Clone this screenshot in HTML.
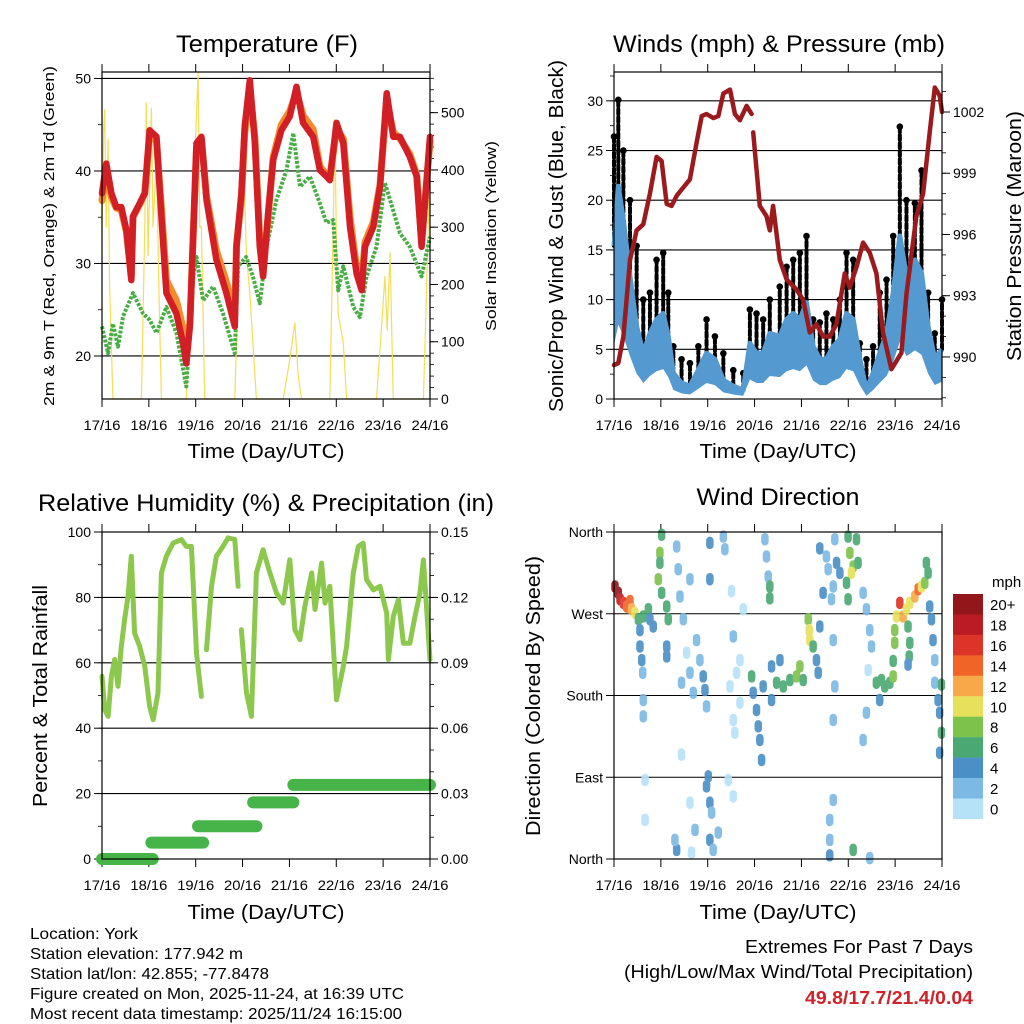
<!DOCTYPE html>
<html><head><meta charset="utf-8"><title>York station meteogram</title>
<style>
html,body{margin:0;padding:0;background:#fff;}
svg{display:block;font-family:"Liberation Sans",Arial,sans-serif;}
</style></head>
<body>
<svg id="chart" width="1024" height="1024" viewBox="0 0 1024 1024" xmlns="http://www.w3.org/2000/svg">
<rect x="0" y="0" width="1024" height="1024" fill="#fff"/>
<g id="texts">
<text x="267" y="52" font-size="24" text-anchor="middle" textLength="182" lengthAdjust="spacingAndGlyphs">Temperature (F)</text>
<text x="779" y="52" font-size="24" text-anchor="middle" textLength="332" lengthAdjust="spacingAndGlyphs">Winds (mph) &amp; Pressure (mb)</text>
<text x="266" y="511" font-size="24" text-anchor="middle" textLength="456" lengthAdjust="spacingAndGlyphs">Relative Humidity (%) &amp; Precipitation (in)</text>
<text x="778" y="505" font-size="24" text-anchor="middle" textLength="163" lengthAdjust="spacingAndGlyphs">Wind Direction</text>
<text x="266" y="458" font-size="20" text-anchor="middle" textLength="157" lengthAdjust="spacingAndGlyphs">Time (Day/UTC)</text>
<text x="778" y="458" font-size="20" text-anchor="middle" textLength="157" lengthAdjust="spacingAndGlyphs">Time (Day/UTC)</text>
<text x="266" y="919" font-size="20" text-anchor="middle" textLength="157" lengthAdjust="spacingAndGlyphs">Time (Day/UTC)</text>
<text x="778" y="919" font-size="20" text-anchor="middle" textLength="157" lengthAdjust="spacingAndGlyphs">Time (Day/UTC)</text>
<text transform="translate(54,236) rotate(-90)" font-size="15" text-anchor="middle" textLength="340" lengthAdjust="spacingAndGlyphs">2m &amp; 9m T (Red, Orange) &amp; 2m Td (Green)</text>
<text transform="translate(496,236) rotate(-90)" font-size="15" text-anchor="middle" textLength="190" lengthAdjust="spacingAndGlyphs">Solar Insolation (Yellow)</text>
<text transform="translate(563,236) rotate(-90)" font-size="20" text-anchor="middle" textLength="352" lengthAdjust="spacingAndGlyphs">Sonic/Prop Wind &amp; Gust (Blue, Black)</text>
<text transform="translate(1021,236) rotate(-90)" font-size="20" text-anchor="middle" textLength="250" lengthAdjust="spacingAndGlyphs">Station Pressure (Maroon)</text>
<text transform="translate(47,696) rotate(-90)" font-size="20" text-anchor="middle" textLength="222" lengthAdjust="spacingAndGlyphs">Percent &amp; Total Rainfall</text>
<text transform="translate(540,696) rotate(-90)" font-size="20" text-anchor="middle" textLength="280" lengthAdjust="spacingAndGlyphs">Direction (Colored By Speed)</text>
<g font-size="16">
<text x="30" y="939" textLength="108" lengthAdjust="spacingAndGlyphs">Location: York</text>
<text x="30" y="959" textLength="213" lengthAdjust="spacingAndGlyphs">Station elevation: 177.942 m</text>
<text x="30" y="979" textLength="239" lengthAdjust="spacingAndGlyphs">Station lat/lon: 42.855; -77.8478</text>
<text x="30" y="999" textLength="374" lengthAdjust="spacingAndGlyphs">Figure created on Mon, 2025-11-24, at 16:39 UTC</text>
<text x="30" y="1019" textLength="372" lengthAdjust="spacingAndGlyphs">Most recent data timestamp: 2025/11/24 16:15:00</text>
</g>
<text x="973" y="953" font-size="18" text-anchor="end" textLength="228" lengthAdjust="spacingAndGlyphs">Extremes For Past 7 Days</text>
<text x="973" y="978" font-size="18" text-anchor="end" textLength="349" lengthAdjust="spacingAndGlyphs">(High/Low/Max Wind/Total Precipitation)</text>
<text x="973" y="1004" font-size="18" font-weight="bold" fill="#cf2229" text-anchor="end" textLength="168" lengthAdjust="spacingAndGlyphs">49.8/17.7/21.4/0.04</text>
<text x="992" y="587" font-size="15">mph</text>
</g>
</svg>
<script>
// ---------- Temperature panel data ----------
var tempTimes=[0,2.2,4.8,7.3,9.9,12.5,15,15.9,19.3,21.9,24.4,27.9,30.4,33,38.1,41.5,43.2,45,48.4,50.9,53.5,58.6,63.7,68,68.9,71.4,73.1,75.7,78.3,80.8,82.5,85.1,87.7,91.9,96.2,99.6,103,108.2,111.6,115,116.7,120.1,123.6,127,130.4,133,134.7,139,142.4,145.8,149.2,152.6,157.7,161.2,163.7,168];
var tempRed=[37.6,40.8,37.6,36.1,36.1,33.6,28.2,35.1,36.5,37.6,44.4,43.7,35.1,26.8,24.6,21.4,19.2,23.2,43,43.7,36.9,30.4,26.8,23.2,31.8,37.6,44.8,49.8,43,31.8,28.6,35.4,41.2,44.4,45.9,49.1,45.2,43.7,40.1,39.4,39,45.2,43,34,28.9,27.1,31.8,34,38.3,48.4,43.7,43.7,41.5,39.4,31.8,43.7];
var tempOrange=[36.8,40.3,37.2,36,35.8,33.4,28.6,35,36.4,37.6,44,43.2,36,28.2,26,23,21.6,23.5,42.5,43.5,37.3,31.4,28,24.5,32,37,44,49,43.6,32.5,29,35,41.5,45,46.5,48.5,46,44.5,40.5,39.6,39.2,44.5,43.5,35,29.5,28,32.3,34.5,38.5,47.5,44.2,43.5,41.8,39.6,32.5,43.2];
var dewTimes=[0,3.1,5.6,8.2,10.8,15.9,21,24.4,27.9,33,38.1,43.2,46.7,48.4,51.8,56.9,62,68,69.7,73.8,77.3,80.8,84.3,89.4,94.5,98,101.4,106.5,111.6,115,118.4,121,123.6,128.7,132.1,135.5,140.6,144.9,147.5,152.6,157.7,163.7,168];
var dewValues=[23.2,20.3,23.5,21,24.3,26.8,24.6,23.9,22.5,25.3,22.5,16.7,28.6,30.7,26,27.5,24.6,20.3,29.7,30.7,28.6,25.7,31.8,36.9,40.1,44.1,38.3,39.4,36.5,34.4,34.7,27.1,29.7,25.3,24.2,28.6,31.8,38.7,36.9,33.3,31.8,28.6,32.9];
var solarTimes=[0,0.9,1.4,2.2,3.1,3.9,5.6,20.2,21.9,22.7,23.6,25.3,26.1,27.9,29.1,30.4,43.2,44.9,46.7,49.2,50.1,50.9,52.6,68,69.7,72.3,74,75.7,79.1,92.8,96.2,98.8,100.5,102.2,116.7,118.4,119.3,120.1,121,123.6,125.3,140.6,143.2,144.9,146.1,147.5,149.2,164.6,166.3,168];
var solarValues=[300,480,505,300,453,200,0,0,300,517,250,508,300,418,200,0,0,150,350,569,300,301,0,0,200,435,250,185,0,0,69,133,40,0,0,300,488,250,150,98,0,0,127,214,120,255,0,0,200,418];
var tempTicks=[20,30,40,50];
var solarTicks=[0,100,200,300,400,500];
var dayLabels=["17/16","18/16","19/16","20/16","21/16","22/16","23/16","24/16"];
// ---------- Winds panel data ----------
var presTimes=[0,2.2,4.8,8.2,11.6,15,18.4,21.8,24.4,27,29.5,32.1,35.5,38.9,42.3,44.9,47.4,50.9,53.4,56,59.4,61.9,64.5,67.9,70.5,71,71.3,74.7,78.1,79.8,81.5,84.9,88.4,93.5,96.9,100.3,103.7,107.1,110.5,113.9,118.2,120.7,124.2,127.6,131,134.4,137.8,142.1,147.2,149.8,154.9,158.3,161.7,164.3,166.8,168];
var presValues=[989.6,989.7,991,994.75,996.2,996.5,998,999.8,999.6,997.5,997.4,997.9,998.3,998.7,1000.5,1001.8,1001.9,1001.7,1001.8,1002.9,1003.1,1001.9,1001.6,1002.3,1001.9,null,1001,997.4,996.9,996.2,997.4,994.75,993.8,993.3,992.8,991.2,991.6,991,991,991.6,994.1,993.4,994.4,995.6,995.1,994.1,991.2,989.4,990.2,993.1,996.9,998,1001,1003.2,1002.8,1002];
var windTimes=[0,2.2,4.8,8.2,11.6,15,18.4,21.8,25.2,27.8,30.4,34.6,38.9,43.2,47.4,51.7,56,61.1,66.2,69.6,73,76.4,79.8,84.9,88.4,91.8,95.2,98.6,102,105.4,108.8,112.3,115.7,119.1,122.5,125.9,129.3,132.7,136.1,139.6,143,146.4,149.8,154.1,157.5,160.9,164.3,168];
var windSpeed=[15.4,21.4,18,12.3,7.3,4.6,6.6,8,8.6,6.3,2.6,1.6,1.3,2.9,4.6,4,1.9,1.3,0.9,5.6,4.6,4.6,6.6,6.3,8,8.6,8,9.7,5.3,4,4,5.3,6,8.6,8,4,0.9,2.6,4.6,6.6,10.7,16.4,12.3,14,12.7,7.3,4,5];
var windGust=[26.4,30.1,25,20,15.4,10,10.7,14,14.7,10.7,5.3,4,3.6,5.3,8,6.3,4.6,2.9,2.6,9,8.6,8,10,11.3,13.3,14,14.7,16.4,8,7.7,8.6,8,10,14.7,14,5.6,4,5.3,10.7,12,16.4,27.4,20,19.7,23,10.7,6.6,10];
var windTicks=[0,5,10,15,20,25,30];
var presTicks=[990,993,996,999,1002];
// ---------- Humidity panel data ----------
var rhTimes=[0,1.4,3.1,4.8,6.5,8.2,9.9,11.6,13.3,15,16.7,19.3,21.9,24.4,26.2,28.7,30.4,33,36.4,40.7,43.2,45.8,48.4,50.9,52,53.5,56.1,58.6,62,64.6,68,69.7,70.5,71.4,74,76.5,79.1,82.5,86,89.4,92.8,96.2,98.8,101.4,103.9,107.4,109.1,112.5,114.2,116.7,120.1,123.6,125.3,128.7,131.3,133.8,135.5,139,142.4,145.8,146.7,149.2,151.8,154.4,157.7,160.3,162.9,164.6,168];
var rhValues=[55.9,45.7,43.6,55.9,61,52.8,65,73.2,80.3,92.6,69.1,65,58.9,46.7,42.6,50.8,87.5,92.6,96.6,97.7,95.6,95.6,63,49.7,null,64,83.4,92.6,95.6,98.2,97.7,83.4,null,70.1,50.8,43.6,87.5,94.6,87.5,81.3,78.3,91.5,70.1,67.1,77.3,87.5,76.3,90.5,78.3,83.4,48.7,58.9,65,87.5,95.6,96.6,85.4,82.3,83.4,75.2,61,74.2,79.3,66,66,74.2,81.3,91.5,61];
var precipStart=[0,25.3,49.2,77.4,98];
var precipEnd=[26,51.8,79.1,98,168];
var precipLevel=[0,0.0075,0.015,0.026,0.034];
var rhTicks=[0,20,40,60,80,100];
var precipTicks=[0,0.03,0.06,0.09,0.12,0.15];
var precipTickLabels=["0.00","0.03","0.06","0.09","0.12","0.15"];
// ---------- Wind direction panel data ----------
var dirTimes=[0.5,2.2,3.1,4.8,6.5,8.2,9,10.7,12.5,15,17.6,18.4,20.1,13.3,13.3,14.2,14.7,15,15,24.4,23.5,22.7,24.4,27,27.8,27,27,23.5,32.1,32.9,33.8,35.5,37.2,38.9,40.6,42.3,44,45.7,46.6,47.4,34.6,38.9,47.4,49.1,50,49.1,50.8,53.4,48.3,38.9,32.1,31.2,39.7,41.5,15.9,15.9,34.6,56,56.8,49.1,49.1,60.2,61.1,64.5,62.8,59.4,64.5,61.1,66.2,61.9,58.5,61.1,71.3,73,73.9,74.7,75.6,76.4,70.5,80.7,77.3,78.1,79,79.8,79.8,83.3,86.7,90.1,93.5,95.2,96.9,85,80.7,99.5,100,100.3,102,103.7,104.6,105.4,112.3,113.1,112.3,105.4,108.8,109.7,107.1,111.4,114,115.7,112.3,113.1,119.9,120.8,122.5,124.2,121.6,119.1,125,119.9,127.6,129.3,131,131.9,130.2,129.3,127.6,112.3,110.5,110.5,110.5,131,134.4,137,138.7,141.3,136.1,143,143,144.7,146.4,148.1,149.8,151.5,154.1,155.8,157.5,159.2,160.9,160,143.8,143.8,150.6,151.5,151.2,150.6,161.7,162.6,163.4,164.3,164.3,166,166.8,167.7,166.8,167.7,122.5];
var dirDegrees=[300,293,286,282,278,284,275,271,264,267,275,264,256,252,234,219,205,175,157,357,337,308,293,278,264,234,223,326,344,319,289,264,227,205,183,241,219,201,186,168,194,308,80,62,51,21,10,29,91,62,10,21,7,32,87,43,115,355,341,348,308,295,245,219,205,190,172,153,275,139,87,69,183,164,146,131,109,190,201,175,352,333,311,300,287,194,190,197,201,212,197,219,212,264,252,241,234,219,205,256,241,190,153,342,333,319,293,286,326,315,300,352,355,337,322,352,315,304,326,286,293,275,252,234,208,161,131,65,43,21,4,1,194,197,190,194,175,201,218,267,282,267,275,282,289,297,300,304,315,326,252,238,256,238,223,214,278,264,241,219,194,175,161,139,117,192,10];
var dirSpeeds=[20,20,18,17,15,14,12,10,6,6,7,5,4,4,4,4,3,2,3,7,8,8,7,6,6,5,5,7,2,3,2,2,1,3,2,2,3,4,4,2,2,3,4,4,3,4,2,2,4,1,4,2,1,2,1,1,1,2,3,4,4,1,2,1,1,1,1,1,1,1,1,1,4,4,4,4,4,4,6,5,2,2,2,6,6,6,6,7,8,8,7,4,4,8,10,10,6,4,4,4,2,3,2,4,2,3,4,3,4,4,2,2,7,8,8,7,10,6,7,6,2,2,2,2,1,2,2,2,2,2,4,2,6,6,6,6,4,8,6,10,16,12,10,10,12,14,10,8,6,6,8,8,6,6,6,4,4,4,4,2,2,4,4,6,4,6,6];
var dirTicks=[0,90,180,270,360];
var dirTickLabels=["North","East","South","West","North"];
var legendLabels=["20+","18","16","14","12","10","8","6","4","2","0"];
var legendColors=["#92161a","#bb1c24","#dc3428","#f06428","#f8a848","#e6e05a","#7dc24b","#4aa873","#4a8fc6","#7cb9e4","#b6e2f8"];

var NS="http://www.w3.org/2000/svg";
var svg=document.getElementById("chart");
function mk(tag,attrs,parent){var e=document.createElementNS(NS,tag);for(var k in attrs)e.setAttribute(k,attrs[k]);(parent||svg).appendChild(e);return e;}
function lin(d0,d1,r0,r1){return function(v){return r0+(v-d0)/(d1-d0)*(r1-r0);};}
function pathFrom(ts,vs,xs,ys){var d="",pen=false;for(var i=0;i<ts.length;i++){if(vs[i]===null){pen=false;continue;}d+=(pen?"L":"M")+xs(ts[i]).toFixed(1)+","+ys(vs[i]).toFixed(1);pen=true;}return d;}

function frame(P,name){
  var g=mk("g",{});
  
  
  for(var i=0;i<8;i++){
    var x=P.x(i*24);
    var t1=mk("line",{x1:x,y1:P.top-8,x2:x,y2:P.top,stroke:"#000","stroke-width":1},g);
    
    
    var t2=mk("line",{x1:x,y1:P.bot,x2:x,y2:P.bot+8,stroke:"#000","stroke-width":1},g);
    
    
    var lb=mk("text",{x:x,y:P.bot+31,"font-size":14,"text-anchor":"middle",textLength:37,lengthAdjust:"spacingAndGlyphs"},g);
    lb.textContent=dayLabels[i];
    
    
  }
  return g;
}
function yAxis(g,P,scale,ticks,labels,minor,side,cls){
  var ax=side==="L"?P.left:P.right, dir=side==="L"?-1:1;
  for(var i=0;i<minor.length;i++){
    var y=scale(minor[i]);
    var m=mk("line",{x1:ax,y1:y,x2:ax+dir*4,y2:y,stroke:"#000","stroke-width":0.8},g);
    
    
  }
  for(var j=0;j<ticks.length;j++){
    var yy=scale(ticks[j]);
    var t=mk("line",{x1:ax,y1:yy,x2:ax+dir*8,y2:yy,stroke:"#000","stroke-width":1},g);
    
    
    var lb=mk("text",{x:ax+dir*11,y:yy+5,"font-size":14,"text-anchor":side==="L"?"end":"start"},g);
    lb.textContent=labels[j];
    
    
  }
}
function grid(P,scale,vals,name){
  for(var i=0;i<vals.length;i++){
    var y=scale(vals[i]);
    var l=mk("line",{x1:P.left,y1:y,x2:P.right,y2:y,stroke:"#000","stroke-width":1.1});
    
    
  }
}
function box(P,name){
  var r=mk("rect",{x:P.left,y:P.top,width:P.right-P.left,height:P.bot-P.top,fill:"none",stroke:"#000","stroke-width":1.2});
  
  
}
function range(a,b,s){var r=[];for(var v=a;v<=b+1e-9;v+=s)r.push(+v.toFixed(4));return r;}

// ===== Panel 1: Temperature =====
var P1={left:102,right:430,top:72,bot:399};
P1.x=lin(0,168,P1.left,P1.right);
var yT=lin(15.35,50.7,P1.bot,P1.top);
var yS=lin(0,571,P1.bot,P1.top);
grid(P1,yT,tempTicks,"temp");
var g1=frame(P1,"temp");
yAxis(g1,P1,yT,tempTicks,tempTicks.map(String),range(20,50,5),"L","temp-y");
yAxis(g1,P1,yS,solarTicks,solarTicks.map(String),range(0,560,20),"R","solar-y");
var solarLine=mk("path",{d:pathFrom(solarTimes,solarValues,P1.x,yS),fill:"none",stroke:"#f7dc55","stroke-width":1.2,"stroke-linejoin":"round"});


var dewLine=mk("path",{d:pathFrom(dewTimes,dewValues,P1.x,yT),fill:"none",stroke:"#48ad44","stroke-width":4,"stroke-dasharray":"3 1.5","stroke-linejoin":"round"});


var orLine=mk("path",{d:pathFrom(tempTimes,tempOrange,P1.x,yT),fill:"none",stroke:"#f28a2e","stroke-width":7,"stroke-linejoin":"round","stroke-linecap":"round"});


var redLine=mk("path",{d:pathFrom(tempTimes,tempRed,P1.x,yT),fill:"none",stroke:"#d21f26","stroke-width":6.5,"stroke-linejoin":"round","stroke-linecap":"round"});


box(P1,"temp");

// ===== Panel 2: Winds =====
var P2={left:614,right:942,top:72,bot:399};
P2.x=lin(0,168,P2.left,P2.right);
var yW=lin(0,32.9,P2.bot,P2.top);
var yP=lin(987.94,1003.96,P2.bot,P2.top);
grid(P2,yW,windTicks.slice(1),"wind");
var g2=frame(P2,"winds");
yAxis(g2,P2,yW,windTicks,windTicks.map(String),range(0,32.5,2.5),"L","wind-y");
yAxis(g2,P2,yP,presTicks,presTicks.map(String),range(988,1003,1),"R","pressure-y");
var gustG=mk("g",{});


for(var i=0;i<windTimes.length;i++){
  var gx=P2.x(windTimes[i]);
  var gl=mk("line",{x1:gx,y1:yW(windSpeed[i]),x2:gx,y2:yW(windGust[i]),stroke:"#000","stroke-width":4,"stroke-linecap":"round","stroke-dasharray":"5 3"},gustG);
  
  
  var gd=mk("circle",{cx:gx,cy:yW(windGust[i]),r:3.3,fill:"#000"},gustG);
  
  
}
var areaD=pathFrom(windTimes,windSpeed,P2.x,yW);
for(var k=windTimes.length-1;k>=0;k--){areaD+="L"+P2.x(windTimes[k]).toFixed(1)+","+yW(windSpeed[k]*0.35).toFixed(1);}
var windArea=mk("path",{d:areaD+"Z",fill:"#5499d0",stroke:"none"});


var windLine=mk("path",{d:pathFrom(windTimes,windSpeed,P2.x,yW),fill:"none",stroke:"#5499d0","stroke-width":5,"stroke-linejoin":"round"});


var presLine=mk("path",{d:pathFrom(presTimes,presValues,P2.x,yP),fill:"none",stroke:"#9b1a1d","stroke-width":4.5,"stroke-linejoin":"round","stroke-linecap":"round"});


box(P2,"winds");

// ===== Panel 3: Humidity =====
var P3={left:102,right:430,top:532,bot:859};
P3.x=lin(0,168,P3.left,P3.right);
var yR=lin(0,100,P3.bot,P3.top);
var yPr=lin(0,0.15,P3.bot,P3.top);
grid(P3,yR,[20,40,60,80],"rh");
var g3=frame(P3,"humidity");
yAxis(g3,P3,yR,rhTicks,rhTicks.map(String),range(0,100,10),"L","rh-y");
yAxis(g3,P3,yPr,precipTicks,precipTickLabels,range(0,0.15,0.01),"R","precip-y");
var rhLine=mk("path",{d:pathFrom(rhTimes,rhValues,P3.x,yR),fill:"none",stroke:"#8cc84d","stroke-width":5,"stroke-linejoin":"round","stroke-linecap":"round"});


for(var p=0;p<precipLevel.length;p++){
  var pl=mk("line",{x1:P3.x(precipStart[p]),y1:yPr(precipLevel[p]),x2:P3.x(precipEnd[p]),y2:yPr(precipLevel[p]),stroke:"#46b448","stroke-width":12,"stroke-linecap":"round"});
  
  
}
box(P3,"humidity");

// ===== Panel 4: Wind direction =====
var P4={left:614,right:942,top:532,bot:859};
P4.x=lin(0,168,P4.left,P4.right);
var yD=lin(0,360,P4.bot,P4.top);
grid(P4,yD,[90,180,270],"direction");
var g4=frame(P4,"direction");
yAxis(g4,P4,yD,dirTicks,dirTickLabels,[],"L","direction-y");
var dg=mk("g",{opacity:0.9});


for(var q=0;q<dirTimes.length;q++){
  var bin=Math.min(10,Math.floor(dirSpeeds[q]/2));
  var col=legendColors[10-bin];
  var dx=P4.x(dirTimes[q]), dy=yD(dirDegrees[q]);
  var dl=mk("line",{x1:dx,y1:dy-2.5,x2:dx,y2:dy+2.5,stroke:col,"stroke-width":7.5,"stroke-linecap":"round"},dg);
  
  
}
box(P4,"direction");
var lg=mk("g",{});


for(var b=0;b<legendLabels.length;b++){
  var by=594+b*20.45;
  var lr=mk("rect",{x:953,y:by,width:30,height:20.6,fill:legendColors[b]},lg);
  
  
  var lt=mk("text",{x:990,y:by+16,"font-size":15},lg);
  lt.textContent=legendLabels[b];
  
  
}
</script>
</body></html>
